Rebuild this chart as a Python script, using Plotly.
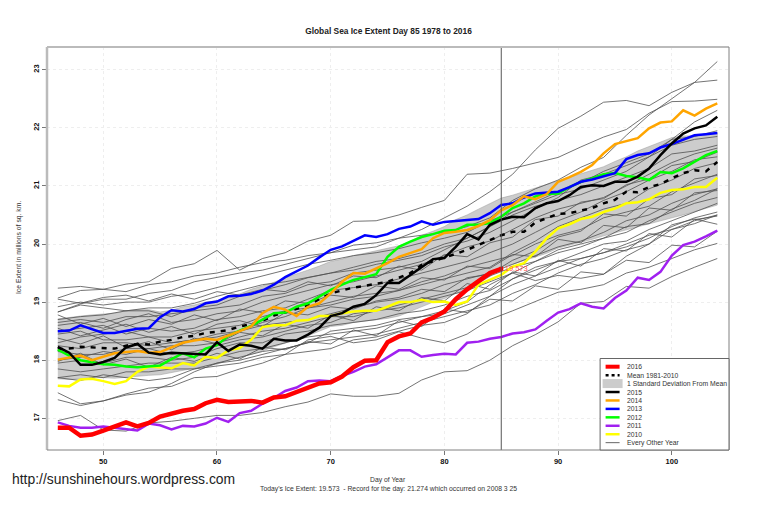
import plotly.graph_objects as go

days = list(range(46, 105))
other_days = list(range(46, 105, 2))
days_2016 = list(range(46, 86))

ice_2016 = [16.84, 16.84, 16.70, 16.72, 16.79, 16.87, 16.93, 16.86, 16.92, 17.03, 17.09, 17.13, 17.16, 17.26, 17.32, 17.28, 17.29, 17.30, 17.27, 17.36,
            17.38, 17.45, 17.53, 17.60, 17.62, 17.72, 17.88, 17.99, 18.00, 18.31, 18.41, 18.46, 18.65, 18.73, 18.84, 19.05, 19.22, 19.35, 19.50, 19.573]
ice_2015 = [18.23, 18.13, 17.92, 17.92, 17.97, 18.04, 18.22, 18.28, 18.13, 18.10, 18.13, 18.12, 18.10, 18.10, 18.31, 18.16, 18.27, 18.25, 18.20, 18.37,
            18.34, 18.34, 18.44, 18.56, 18.76, 18.81, 18.92, 18.97, 19.12, 19.33, 19.33, 19.47, 19.61, 19.74, 19.76, 19.95, 20.17, 20.08, 20.33, 20.42,
            20.47, 20.46, 20.62, 20.70, 20.74, 20.84, 20.98, 21.01, 21.00, 21.07, 21.07, 21.16, 21.30, 21.53, 21.73, 21.90, 21.99, 22.04, 22.19]
ice_2014 = [18.01, 18.05, 18.08, 18.00, 18.06, 18.12, 18.14, 18.16, 18.13, 18.14, 18.22, 18.30, 18.34, 18.37, 18.35, 18.42, 18.50, 18.58, 18.81, 18.92,
            18.87, 18.76, 18.92, 18.98, 19.15, 19.35, 19.50, 19.49, 19.58, 19.67, 19.78, 19.84, 19.91, 20.10, 20.19, 20.21, 20.24, 20.31, 20.41, 20.58,
            20.67, 20.82, 20.77, 20.86, 21.07, 21.15, 21.24, 21.36, 21.56, 21.72, 21.77, 21.82, 21.99, 22.09, 22.11, 22.30, 22.21, 22.33, 22.42]
ice_2013 = [18.50, 18.51, 18.60, 18.54, 18.47, 18.47, 18.50, 18.54, 18.55, 18.74, 18.86, 18.84, 18.88, 18.98, 19.01, 19.10, 19.11, 19.14, 19.20, 19.30,
            19.43, 19.53, 19.63, 19.77, 19.90, 19.96, 20.06, 20.15, 20.12, 20.17, 20.26, 20.30, 20.39, 20.33, 20.38, 20.40, 20.42, 20.43, 20.53, 20.67,
            20.70, 20.80, 20.87, 20.88, 20.90, 20.98, 21.07, 21.11, 21.16, 21.22, 21.46, 21.53, 21.56, 21.66, 21.72, 21.80, 21.87, 21.89, 21.91]
ice_2012 = [18.18, 18.08, 18.00, 17.97, 17.93, 17.92, 17.89, 17.88, 17.89, 17.91, 18.02, 18.12, 18.05, 18.20, 18.26, 18.42, 18.51, 18.59, 18.70, 18.81,
            18.82, 18.92, 18.98, 19.10, 19.21, 19.30, 19.38, 19.43, 19.48, 19.78, 19.95, 20.04, 20.12, 20.17, 20.23, 20.24, 20.33, 20.33, 20.36, 20.47,
            20.62, 20.70, 20.82, 20.86, 20.87, 20.98, 21.07, 21.13, 21.20, 21.22, 21.17, 21.15, 21.10, 21.24, 21.22, 21.30, 21.41, 21.53, 21.60]
ice_2011 = [16.93, 16.87, 16.84, 16.84, 16.86, 16.84, 16.81, 16.79, 16.91, 16.88, 16.81, 16.87, 16.86, 16.91, 17.01, 16.94, 17.09, 17.13, 17.25, 17.35,
            17.47, 17.53, 17.64, 17.65, 17.64, 17.73, 17.80, 17.89, 17.93, 18.05, 18.17, 18.17, 18.06, 18.09, 18.11, 18.10, 18.30, 18.32, 18.37, 18.40,
            18.46, 18.48, 18.53, 18.68, 18.82, 18.88, 18.98, 18.92, 18.89, 19.07, 19.20, 19.42, 19.38, 19.52, 19.80, 19.98, 20.04, 20.13, 20.23]
ice_2010 = [17.56, 17.55, 17.67, 17.68, 17.64, 17.59, 17.64, 17.80, 17.89, 17.88, 17.86, 17.95, 17.91, 18.06, 18.04, 18.17, 18.21, 18.35, 18.57, 18.60,
            18.60, 18.68, 18.69, 18.76, 18.76, 18.81, 18.84, 18.85, 18.85, 18.92, 19.00, 19.00, 19.04, 19.00, 19.01, 18.95, 19.01, 19.30, 19.38, 19.47,
            19.61, 19.67, 19.87, 20.10, 20.27, 20.34, 20.43, 20.47, 20.55, 20.61, 20.70, 20.72, 20.77, 20.88, 20.93, 20.94, 20.98, 20.98, 21.14]
mean_ice = [18.19, 18.20, 18.23, 18.22, 18.20, 18.20, 18.25, 18.28, 18.27, 18.32, 18.35, 18.40, 18.42, 18.47, 18.49, 18.52, 18.58, 18.62, 18.68, 18.77,
            18.82, 18.88, 18.95, 19.05, 19.15, 19.20, 19.25, 19.28, 19.32, 19.35, 19.42, 19.50, 19.64, 19.70, 19.76, 19.83, 19.90, 19.98, 20.07, 20.15,
            20.21, 20.21, 20.37, 20.45, 20.52, 20.53, 20.58, 20.62, 20.70, 20.76, 20.90, 20.89, 20.98, 21.03, 21.13, 21.22, 21.27, 21.25, 21.41]
sd_upper = [18.71, 18.74, 18.76, 18.78, 18.80, 18.81, 18.85, 18.87, 18.87, 18.83, 18.86, 18.92, 18.95, 19.00, 19.02, 19.10, 19.14, 19.22, 19.28, 19.34,
            19.42, 19.48, 19.55, 19.62, 19.70, 19.74, 19.80, 19.84, 19.88, 19.92, 19.97, 20.04, 20.15, 20.22, 20.30, 20.42, 20.50, 20.60, 20.70, 20.79,
            20.84, 20.90, 20.97, 21.02, 21.08, 21.15, 21.20, 21.26, 21.33, 21.42, 21.50, 21.60, 21.68, 21.75, 21.83, 21.86, 21.86, 21.88, 21.92]
sd_lower = [17.68, 17.67, 17.68, 17.70, 17.70, 17.69, 17.70, 17.72, 17.74, 17.75, 17.78, 17.82, 17.86, 17.90, 17.93, 18.00, 18.05, 18.10, 18.16, 18.23,
            18.30, 18.36, 18.42, 18.50, 18.58, 18.60, 18.65, 18.67, 18.70, 18.72, 18.76, 18.83, 18.92, 19.00, 19.06, 19.15, 19.22, 19.32, 19.44, 19.61,
            19.65, 19.72, 19.78, 19.84, 19.93, 19.98, 20.03, 20.08, 20.14, 20.19, 20.24, 20.30, 20.35, 20.40, 20.45, 20.50, 20.55, 20.61, 20.67]

# the thin grey years, read every second day
other_a = [18.83, 18.97, 19.05, 19.05, 19.15, 19.20, 19.35, 19.42, 19.50, 19.55, 19.65, 19.75, 19.85, 19.90, 19.95, 20.10, 20.25, 20.45, 20.65, 20.90, 21.20, 21.62, 21.99, 22.20, 22.44, 22.47, 22.38, 22.61, 22.78, 22.82]
other_b = [19.24, 19.27, 19.22, 19.31, 19.35, 19.58, 19.66, 19.89, 19.55, 19.75, 19.85, 20.05, 20.15, 20.39, 20.40, 20.50, 20.63, 20.75, 21.20, 21.22, 21.30, 21.39, 21.49, 21.67, 21.84, 21.97, 22.25, 22.45, 22.46, 22.49]
other_c = [19.07, 19.20, 19.22, 19.18, 19.30, 19.35, 19.45, 19.50, 19.60, 19.68, 19.72, 19.80, 19.85, 19.98, 20.02, 20.10, 20.15, 20.20, 20.30, 20.45, 20.75, 20.95, 21.10, 21.32, 21.49, 21.87, 22.22, 22.50, 22.78, 23.14]
other_d = [18.92, 19.00, 18.95, 19.00, 19.00, 19.10, 19.15, 19.25, 19.35, 19.45, 19.55, 19.65, 19.72, 19.80, 19.85, 19.92, 20.02, 20.10, 20.20, 20.40, 20.55, 20.72, 20.90, 21.05, 21.25, 21.40, 21.55, 21.80, 22.10, 22.30]
other_e = [18.83, 18.95, 18.90, 18.85, 18.90, 18.90, 18.98, 19.10, 19.20, 19.30, 19.35, 19.42, 19.50, 19.55, 19.65, 19.72, 19.80, 19.95, 20.05, 20.20, 20.40, 20.60, 20.80, 21.10, 21.20, 21.35, 21.50, 21.80, 21.85, 21.95]
other_f = [18.70, 18.75, 18.78, 18.85, 18.85, 18.75, 18.90, 18.95, 19.10, 19.20, 19.30, 19.42, 19.50, 19.60, 19.70, 19.75, 19.85, 20.00, 20.10, 20.30, 20.55, 20.70, 20.85, 20.95, 21.10, 21.25, 21.50, 21.70, 21.80, 21.85]
other_g = [18.60, 18.65, 18.55, 18.70, 18.80, 18.65, 18.70, 18.80, 18.85, 19.00, 19.10, 19.20, 19.30, 19.35, 19.45, 19.55, 19.65, 19.80, 19.95, 20.05, 20.25, 20.45, 20.60, 20.70, 20.80, 21.00, 21.20, 21.40, 21.55, 21.65]
other_h = [18.50, 18.55, 18.60, 18.45, 18.55, 18.50, 18.55, 18.70, 18.75, 18.85, 18.90, 19.05, 19.20, 19.25, 19.30, 19.40, 19.50, 19.60, 19.70, 19.85, 20.00, 20.20, 20.40, 20.55, 20.75, 20.90, 21.10, 21.25, 21.45, 21.50]
other_i = [18.30, 18.40, 18.45, 18.50, 18.40, 18.40, 18.50, 18.55, 18.60, 18.75, 18.85, 18.90, 19.00, 19.10, 19.15, 19.20, 19.35, 19.45, 19.60, 19.70, 19.80, 20.00, 20.15, 20.25, 20.45, 20.55, 20.65, 20.90, 21.05, 21.20]
other_j = [18.25, 18.20, 18.30, 18.30, 18.25, 18.30, 18.35, 18.45, 18.50, 18.60, 18.65, 18.70, 18.80, 18.90, 19.00, 19.05, 19.15, 19.30, 19.40, 19.50, 19.65, 19.80, 19.95, 20.05, 20.20, 20.40, 20.50, 20.70, 20.85, 20.95]
other_k = [18.00, 18.05, 18.15, 18.10, 18.20, 18.10, 18.15, 18.25, 18.35, 18.40, 18.50, 18.60, 18.65, 18.80, 18.85, 18.95, 19.05, 19.15, 19.25, 19.45, 19.60, 19.70, 19.85, 19.95, 20.10, 20.20, 20.40, 20.55, 20.70, 20.80]
other_l = [17.95, 18.00, 17.95, 18.05, 18.05, 18.00, 18.05, 18.20, 18.30, 18.30, 18.45, 18.50, 18.60, 18.65, 18.70, 18.80, 18.85, 18.95, 19.10, 19.20, 19.40, 19.60, 19.70, 19.85, 20.00, 20.05, 20.25, 20.40, 20.55, 20.70]
other_m = [17.85, 17.80, 17.85, 17.90, 17.95, 17.95, 17.95, 18.05, 18.15, 18.20, 18.30, 18.40, 18.45, 18.50, 18.55, 18.65, 18.75, 18.80, 18.95, 19.10, 19.30, 19.45, 19.60, 19.75, 19.85, 19.95, 20.10, 20.30, 20.45, 20.55]
other_n = [17.70, 17.75, 17.70, 17.80, 17.80, 17.85, 17.85, 17.95, 18.05, 18.15, 18.20, 18.30, 18.35, 18.40, 18.45, 18.55, 18.65, 18.75, 18.85, 18.95, 19.15, 19.30, 19.50, 19.65, 19.75, 19.90, 20.00, 20.25, 20.40, 20.50]
other_o = [18.45, 18.50, 18.35, 18.35, 18.40, 18.30, 18.35, 18.40, 18.50, 18.65, 18.75, 18.90, 18.95, 19.05, 19.10, 19.20, 19.30, 19.40, 19.50, 19.60, 19.85, 20.05, 20.30, 20.45, 20.60, 20.70, 20.95, 21.10, 21.30, 21.40]
other_p = [18.15, 18.10, 18.10, 18.20, 18.20, 18.25, 18.25, 18.30, 18.40, 18.50, 18.55, 18.65, 18.75, 18.75, 18.85, 18.90, 19.00, 19.10, 19.20, 19.35, 19.50, 19.70, 19.90, 20.00, 20.10, 20.30, 20.35, 20.60, 20.75, 20.95]
other_q = [18.65, 18.70, 18.65, 18.75, 18.75, 18.80, 18.85, 18.90, 18.95, 19.10, 19.15, 19.30, 19.35, 19.50, 19.55, 19.60, 19.70, 19.90, 20.10, 20.30, 20.50, 20.65, 20.75, 20.85, 21.00, 21.15, 21.30, 21.55, 21.60, 21.70]
other_r = [16.96, 17.05, 16.80, 16.78, 16.92, 16.95, 17.00, 17.05, 17.05, 17.10, 17.20, 17.28, 17.42, 17.38, 17.38, 17.43, 17.66, 17.80, 17.82, 18.00, 18.25, 18.44, 18.66, 18.98, 19.01, 19.27, 19.24, 19.44, 19.60, 19.75]
other_s = [17.32, 17.22, 17.30, 17.42, 17.52, 17.55, 17.70, 17.72, 17.85, 17.95, 18.10, 18.35, 18.41, 18.30, 18.35, 18.49, 18.38, 18.30, 18.45, 18.70, 18.85, 19.01, 19.17, 19.22, 19.30, 19.50, 19.60, 19.75, 19.90, 20.01]
other_t = [17.44, 17.25, 17.30, 17.40, 17.45, 17.60, 17.80, 17.95, 18.00, 18.10, 18.20, 18.30, 18.50, 18.55, 18.60, 18.70, 18.75, 18.85, 19.00, 19.30, 19.50, 19.37, 19.46, 19.41, 19.48, 19.79, 20.00, 20.33, 20.43, 20.34]
other_u = [17.70, 17.65, 17.75, 17.70, 17.65, 17.70, 17.85, 17.90, 17.95, 18.05, 18.10, 18.15, 18.20, 18.35, 18.40, 18.50, 18.60, 18.65, 18.80, 19.10, 19.40, 19.55, 19.70, 19.75, 19.85, 20.00, 20.15, 20.25, 20.35, 20.50]
other_v = [19.05, 18.98, 19.08, 19.12, 19.02, 19.14, 19.05, 19.18, 19.12, 19.22, 19.18, 19.35, 19.28, 19.45, 19.42, 19.62, 19.55, 19.82, 19.78, 20.02, 20.12, 20.42, 20.48, 20.72, 20.78, 21.02, 21.12, 21.35, 21.42, 21.58]
other_w = [18.78, 18.62, 18.72, 18.58, 18.70, 18.62, 18.78, 18.68, 18.88, 18.82, 19.02, 18.98, 19.12, 19.08, 19.28, 19.22, 19.42, 19.38, 19.62, 19.58, 19.82, 19.78, 20.08, 20.02, 20.32, 20.28, 20.62, 20.58, 20.88, 20.92]
other_x = [18.38, 18.28, 18.42, 18.22, 18.32, 18.18, 18.38, 18.28, 18.48, 18.42, 18.62, 18.55, 18.78, 18.68, 18.92, 18.85, 19.08, 19.02, 19.32, 19.22, 19.52, 19.45, 19.72, 19.62, 19.92, 19.88, 20.18, 20.12, 20.42, 20.48]
other_y = [17.98, 18.12, 17.92, 18.02, 17.88, 18.05, 17.98, 18.12, 18.02, 18.22, 18.18, 18.32, 18.28, 18.52, 18.42, 18.68, 18.58, 18.88, 18.82, 19.05, 19.02, 19.28, 19.22, 19.52, 19.48, 19.72, 19.68, 19.98, 19.95, 20.22]
other_z = [18.55, 18.42, 18.52, 18.62, 18.48, 18.58, 18.45, 18.62, 18.68, 18.58, 18.82, 18.78, 18.92, 18.88, 19.02, 19.08, 19.22, 19.18, 19.42, 19.48, 19.72, 19.88, 20.12, 20.22, 20.52, 20.48, 20.78, 20.85, 21.12, 21.18]
other_years = [other_a, other_b, other_c, other_d, other_e, other_f, other_g, other_h, other_i, other_j, other_k, other_l, other_m,
               other_n, other_o, other_p, other_q, other_r, other_s, other_t, other_u, other_v, other_w, other_x, other_y, other_z]

x_ticks = [50, 60, 70, 80, 90, 100]
y_ticks = [17, 18, 19, 20, 21, 22, 23]
legend_labels = ["2016", "Mean 1981-2010", "1 Standard Deviation From Mean", "2015", "2014", "2013", "2012", "2011", "2010", "Every Other Year"]
legend_colors = ["red", "black", "#cccccc", "black", "orange", "blue", "lime", "#a020f0", "yellow", "#666666"]
legend_widths = [4, 2.5, 0, 2.5, 2.5, 2.5, 2.5, 2.5, 2.5, 1]

# the page body has an 8px margin, so the figure is 8px smaller than the window
PAGE = 8
W, H = 760 - PAGE, 506 - PAGE
LEFT, RIGHT, TOP, BOTTOM = 47, 729.5, 47, 450
FONT = "Liberation Sans"


def px(x):
    return (x - LEFT) / (RIGHT - LEFT)


def py(y):
    return (BOTTOM - y) / (BOTTOM - TOP)


fig = go.Figure()

# sd band first so every line sits on it
fig.add_trace(go.Scatter(x=days + days[::-1], y=sd_upper + sd_lower[::-1], fill="toself",
                         fillcolor="#cccccc", line=dict(color="#999999", width=0.5), mode="lines"))
for vals in other_years:
    fig.add_trace(go.Scatter(x=other_days, y=vals, mode="lines", line=dict(color="#505050", width=0.8)))

fig.add_trace(go.Scatter(x=days, y=mean_ice, mode="lines", line=dict(color="black", width=2.5, dash="5px,6px")))
fig.add_trace(go.Scatter(x=days, y=ice_2010, mode="lines", line=dict(color="yellow", width=2.5)))
fig.add_trace(go.Scatter(x=days, y=ice_2011, mode="lines", line=dict(color="#a020f0", width=2.5)))
fig.add_trace(go.Scatter(x=days, y=ice_2012, mode="lines", line=dict(color="lime", width=2.5)))
fig.add_trace(go.Scatter(x=days, y=ice_2013, mode="lines", line=dict(color="blue", width=2.5)))
fig.add_trace(go.Scatter(x=days, y=ice_2014, mode="lines", line=dict(color="orange", width=2.5)))
fig.add_trace(go.Scatter(x=days, y=ice_2015, mode="lines", line=dict(color="black", width=2.5)))
fig.add_trace(go.Scatter(x=days_2016, y=ice_2016, mode="lines", line=dict(color="red", width=4.5)))
fig.add_trace(go.Scatter(x=days_2016[-1:], y=ice_2016[-1:], mode="markers+text", text=["19.573"],
                         textposition="middle right", marker=dict(color="red", size=4, symbol="square"),
                         textfont=dict(color="#ff5050", size=7.5, family=FONT)))

shapes = [
    dict(type="line", xref="x", yref="paper", x0=85, x1=85, y0=0, y1=1, line=dict(color="#555555", width=1)),
    dict(type="line", xref="paper", yref="paper", x0=0, x1=0, y0=0, y1=1, line=dict(color="#bbbbbb", width=2.5)),
    dict(type="line", xref="paper", yref="paper", x0=0, x1=1, y0=1, y1=1, line=dict(color="#bbbbbb", width=2)),
    dict(type="line", xref="paper", yref="paper", x0=1, x1=1, y0=0, y1=1, line=dict(color="#808080", width=1)),
    dict(type="line", xref="paper", yref="paper", x0=0, x1=1, y0=0, y1=0, line=dict(color="#808080", width=1)),
    # legend box
    dict(type="rect", xref="paper", yref="paper", x0=px(600.5), x1=1, y0=0, y1=py(358.5),
         line=dict(color="#666666", width=1), fillcolor="white"),
]
annotations = []
row_y = 366.7
for label, color, width in zip(legend_labels, legend_colors, legend_widths):
    if width == 0:
        shapes.append(dict(type="rect", xref="paper", yref="paper", x0=px(603), x1=px(623), y0=py(row_y + 4.5),
                           y1=py(row_y - 4.5), line=dict(width=0), fillcolor=color))
    else:
        dash = "3px,3px" if label.startswith("Mean") else "solid"
        shapes.append(dict(type="line", xref="paper", yref="paper", x0=px(606), x1=px(620), y0=py(row_y),
                           y1=py(row_y), line=dict(color=color, width=width, dash=dash)))
    annotations.append(dict(xref="paper", yref="paper", x=px(625), y=py(row_y), text=label, showarrow=False,
                            xanchor="left", yanchor="middle", font=dict(size=6.8, color="#333333", family=FONT)))
    row_y += 8.44

annotations.append(dict(xref="paper", yref="paper", x=px(10), y=py(479), text="http://sunshinehours.wordpress.com",
                        showarrow=False, xanchor="left", yanchor="middle", font=dict(size=13.9, color="#222222", family=FONT)))
annotations.append(dict(xref="paper", yref="paper", x=px(388.5), y=py(488.5),
                        text="Today's Ice Extent: 19.573  - Record for the day: 21.274 which occurred on 2008 3 25",
                        showarrow=False, xanchor="center", yanchor="middle", font=dict(size=6.8, color="#333333", family=FONT)))
annotations.append(dict(xref="paper", yref="paper", x=px(388.5), y=py(480), text="Day of Year",
                        showarrow=False, xanchor="center", yanchor="middle", font=dict(size=6.8, color="#333333", family=FONT)))
annotations.append(dict(xref="paper", yref="paper", x=px(19), y=py(248), text="Ice Extent in millions of sq. km.", textangle=-90,
                        showarrow=False, xanchor="center", yanchor="middle", font=dict(size=6.8, color="#333333", family=FONT)))

fig.update_layout(
    width=W, height=H, autosize=False, showlegend=False,
    margin=dict(l=LEFT - PAGE, r=760 - RIGHT, t=TOP - PAGE, b=506 - BOTTOM),
    paper_bgcolor="white", plot_bgcolor="white",
    font=dict(family=FONT, color="#222222"),
    title=dict(text="<b>Global Sea Ice Extent Day 85 1978 to 2016</b>", x=(388.5 - PAGE) / W, xanchor="center",
               y=1 - (31 - PAGE) / H, yanchor="middle", font=dict(size=8.4, color="#222222", family=FONT)),
    shapes=shapes, annotations=annotations,
    xaxis=dict(range=[45.05, 105.03], tickmode="array", tickvals=x_ticks, ticks="outside", ticklen=4, tickcolor="#777777",
               showgrid=True, gridcolor="#eeeeee", griddash="dot", zeroline=False, showline=False,
               tickfont=dict(size=7.5, color="#111111", family=FONT, weight="bold")),
    yaxis=dict(range=[16.455, 23.39], tickmode="array", tickvals=y_ticks, ticks="outside", ticklen=4, tickcolor="#777777",
               tickangle=-90, showgrid=True, gridcolor="#eeeeee", griddash="dot", zeroline=False, showline=False,
               tickfont=dict(size=7.5, color="#111111", family=FONT, weight="bold")),
)

fig.write_html("out.html")
